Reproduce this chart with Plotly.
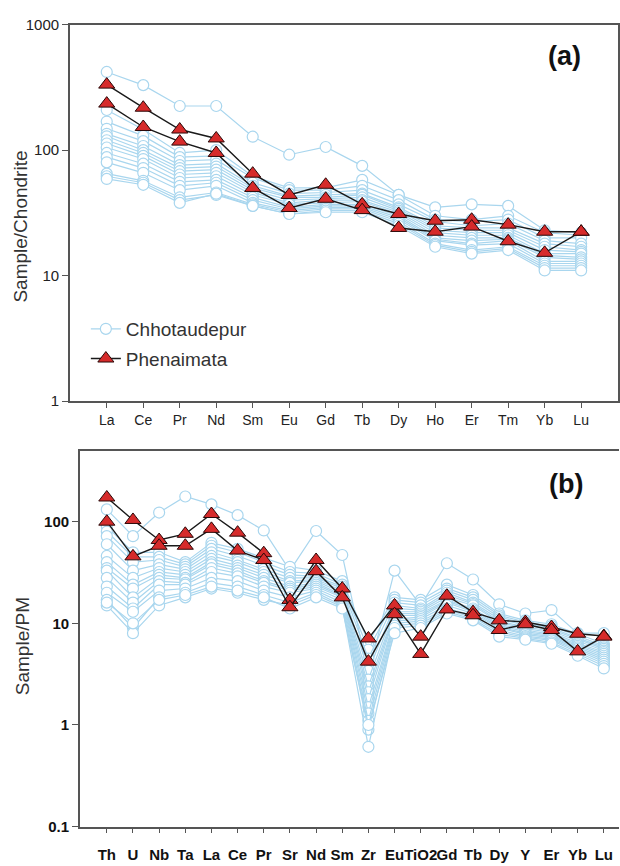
import plotly.graph_objects as go

ree_labels = ["La", "Ce", "Pr", "Nd", "Sm", "Eu", "Gd", "Tb", "Dy", "Ho", "Er", "Tm", "Yb", "Lu"]
pm_labels = ["Th", "U", "Nb", "Ta", "La", "Ce", "Pr", "Sr", "Nd", "Sm", "Zr", "Eu", "TiO2", "Gd",
             "Tb", "Dy", "Y", "Er", "Yb", "Lu"]

# Chondrite-normalised REE, Chhotaudepur samples
chh_ree = [
    [420, 330, 225, 225, 128, 92, 106, 75, 44, 35, 37, 36, 23, 22],
    [209, 146, 95, 100, 62, 50, 50, 58, 44, 30, 28, 30, 22, 21],
    [169, 130, 88, 90, 60, 48, 48, 52, 40, 28, 27, 28, 20, 20],
    [148, 118, 82, 84, 55, 45, 46, 48, 37, 27, 25, 26, 19, 18],
    [135, 108, 76, 78, 52, 43, 44, 45, 35, 25, 24, 24, 18, 17],
    [129, 100, 72, 74, 50, 42, 42, 44, 34, 24, 23, 23, 17, 16],
    [120, 95, 68, 70, 48, 40, 41, 42, 33, 23, 22, 22, 16, 15.5],
    [113, 90, 64, 66, 46, 38, 40, 40, 32, 22, 21, 21, 15, 15],
    [105, 85, 60, 62, 44, 37, 38, 39, 31, 21, 20, 20, 14.5, 14],
    [95, 78, 56, 58, 42, 35, 37, 37, 30, 20, 19, 19.5, 14, 13.5],
    [88, 72, 52, 55, 40, 34, 36, 36, 29, 19.5, 18, 19, 13, 13],
    [80, 66, 48, 52, 38, 33, 35, 35, 28, 19, 17.5, 18, 12.5, 12.5],
    [65, 57, 42, 46, 37, 32, 34, 34, 27, 18, 16, 17, 12, 12],
    [62, 55, 40, 44, 36, 31, 33, 33, 26, 17.5, 15.5, 16.5, 11.5, 11.5],
    [59, 53, 38, 45, 36, 31, 32, 32, 25, 17, 15, 16, 11, 11],
]

# Chondrite-normalised REE, Phenaimata samples
phe_ree = [
    [333, 218, 146, 124, 65, 44, 53, 37, 31, 27.4, 27.9, 25.5, 22.4, 22.4],
    [235, 153, 117, 95, 50, 34.6, 41, 33.3, 24, 22.4, 24.6, 18.8, 15.2, 22.4],
]

# Primitive-mantle-normalised, Chhotaudepur samples
chh_pm = [
    [132, 72, 123, 177, 148, 116, 82, 33, 81, 47, 3.2, 33, 15, 39, 27, 15.4, 12.5, 13.5, 8, 8],
    [90, 50, 50, 40, 62, 54, 44, 36, 33, 26, 6.5, 18, 17, 24, 19, 12.5, 10.7, 9.8, 7.9, 6.3],
    [80, 45, 45, 38, 58, 50, 40, 32, 31, 24, 5.5, 17, 16, 22, 18, 12, 10.3, 9.4, 7.5, 6.0],
    [72, 40, 42, 36, 54, 46, 37, 30, 29, 23, 4.5, 16, 15, 21, 17, 11.5, 10, 9, 7.2, 5.8],
    [60, 33, 38, 34, 50, 42, 34, 28, 28, 22, 3.4, 15, 14, 20, 16, 11, 9.6, 8.7, 7.0, 5.6],
    [46, 28, 35, 32, 46, 40, 32, 26, 27, 21, 2.8, 14, 13.5, 19, 15.5, 10.5, 9.2, 8.4, 6.7, 5.4],
    [40, 24, 32, 30, 43, 37, 30, 25, 26, 20, 2.4, 13, 13, 18, 15, 10.2, 8.9, 8.1, 6.4, 5.2],
    [35, 22, 30, 28, 40, 35, 28, 23, 25, 19, 2.1, 12.5, 12.5, 17, 14, 9.8, 8.6, 7.8, 6.2, 5.0],
    [33, 18, 28, 27, 38, 33, 26, 22, 24, 18.5, 1.8, 12, 12, 16.5, 13.5, 9.5, 8.3, 7.6, 6.0, 4.8],
    [28, 16, 26, 25, 35, 31, 25, 21, 23, 18, 1.5, 11, 11.5, 16, 13, 9.2, 8.0, 7.4, 5.8, 4.6],
    [23, 14, 24, 24, 32, 29, 23, 20, 22, 17, 1.3, 10.5, 11, 15, 12.5, 9.0, 7.8, 7.2, 5.6, 4.4],
    [20, 13, 21, 22, 28, 26, 21, 18, 21, 16, 1.1, 10, 10.5, 14, 12, 8.6, 7.5, 7.0, 5.4, 4.2],
    [17, 9, 18, 20, 25, 23, 19, 16, 20, 15, 0.9, 9.5, 10, 13.5, 11.5, 8.2, 7.3, 6.8, 5.2, 4.0],
    [15, 8, 15, 18, 22, 20, 17, 15, 19, 14.5, 0.61, 9, 9.5, 13, 11, 7.8, 7.1, 6.5, 5.0, 3.8],
    [16, 10, 17, 19, 23, 21, 18, 14, 18, 14, 1.0, 8, 9, 12.5, 10.7, 7.4, 6.9, 6.3, 4.8, 3.6],
]

# Primitive-mantle-normalised, Phenaimata samples
phe_pm = [
    [173, 104, 66, 76, 119, 78, 49, 17, 42, 22, 7.1, 15, 7.4, 18.7, 12.9, 10.7, 10.3, 9.2, 7.9, 7.5],
    [100, 45.6, 58, 58, 85, 52, 42, 14.4, 32.6, 18, 4.2, 12.3, 5.0, 13.7, 12.0, 8.6, 9.8, 8.6, 5.3, 7.4],
]

BLUE = "#a9d6ee"
RED = "#d62b2b"
FONT = "Liberation Sans, Arial, sans-serif"

fig = go.Figure()

def add_group(rows, labels, xa, ya, kind, show):
    for i, row in enumerate(rows):
        if kind == "c":
            fig.add_trace(go.Scatter(
                x=list(range(len(labels))), y=row, mode="lines+markers",
                xaxis=xa, yaxis=ya, name="Chhotaudepur", legendgroup="c",
                showlegend=(show and i == 0),
                line=dict(color=BLUE, width=1.2),
                marker=dict(symbol="circle", size=11, color="white",
                            line=dict(color=BLUE, width=1.2)),
            ))
        else:
            fig.add_trace(go.Scatter(
                x=list(range(len(labels))), y=row, mode="lines+markers",
                xaxis=xa, yaxis=ya, name="Phenaimata", legendgroup="p",
                showlegend=(show and i == 0),
                line=dict(color="#1a1a1a", width=1.4),
                marker=dict(symbol="triangle-up", size=14, color=RED,
                            line=dict(color="#2a0808", width=1)),
            ))

add_group(chh_ree, ree_labels, "x", "y", "c", True)
add_group(chh_pm, pm_labels, "x2", "y2", "c", False)
add_group(phe_ree, ree_labels, "x", "y", "p", True)
add_group(phe_pm, pm_labels, "x2", "y2", "p", False)

W, H = 620, 866
def px(v):
    return v / W
def py(v):
    return (H - v) / H

axcol = "#555555"
boldfont = dict(size=15, color="#111", family=FONT, weight="bold")
fig.update_layout(
    width=W, height=H, margin=dict(l=0, r=0, t=0, b=0),
    plot_bgcolor="white", paper_bgcolor="white",
    font=dict(family=FONT, size=14, color="#222"),
    legend=dict(x=px(86), y=py(307), xanchor="left", yanchor="top",
                font=dict(size=19, family=FONT, color="#333"),
                traceorder="grouped", tracegroupgap=2, bgcolor="rgba(0,0,0,0)"),
    xaxis=dict(domain=[px(70), px(619)], range=[-1.01, 14.01],
               tickmode="array", tickvals=list(range(len(ree_labels))), ticktext=ree_labels,
               ticks="outside", ticklen=5, tickcolor=axcol, showline=True, linecolor=axcol,
               linewidth=1.5, mirror=True, showgrid=False, zeroline=False, tickangle=0,
               tickfont=dict(size=14, color="#222")),
    yaxis=dict(domain=[py(400), py(16)], type="log", range=[0, 3],
               tickmode="array", tickvals=[1, 10, 100, 1000], ticktext=["1", "10", "100", "1000"],
               ticks="outside", ticklen=6, tickcolor=axcol, showline=True, linecolor=axcol,
               linewidth=1.5, mirror=True, showgrid=False, zeroline=False,
               tickfont=dict(size=15, color="#222")),
    xaxis2=dict(domain=[px(80), 1.0], range=[-1.03, 19.58], anchor="y2",
                tickmode="array", tickvals=list(range(len(pm_labels))), ticktext=pm_labels,
                ticks="outside", ticklen=5, tickcolor=axcol, showline=True, linecolor=axcol,
                linewidth=1.5, mirror=True, showgrid=False, zeroline=False, tickangle=0,
                ticklabelstandoff=9, tickfont=boldfont),
    yaxis2=dict(domain=[py(834), py(451)], type="log", range=[-1, 2.694], anchor="x2",
                tickmode="array", tickvals=[0.1, 1, 10, 100], ticktext=["0.1", "1", "10", "100"],
                ticks="outside", ticklen=6, tickcolor=axcol, showline=True, linecolor=axcol,
                linewidth=1.5, mirror=False, showgrid=False, zeroline=False,
                tickfont=dict(size=15, color="#111", weight="bold")),
    annotations=[
        dict(text="Sample/Chondrite", x=px(21), y=py(222), xref="paper", yref="paper",
             xanchor="center", yanchor="middle",
             textangle=-90, showarrow=False, font=dict(size=19, color="#333")),
        dict(text="Sample/PM", x=px(22), y=py(650), xref="paper", yref="paper",
             xanchor="center", yanchor="middle",
             textangle=-90, showarrow=False, font=dict(size=19, color="#333")),
        dict(text="<b>(a)</b>", x=px(565), y=py(48), xref="paper", yref="paper",
             xanchor="center", yanchor="middle",
             showarrow=False, font=dict(size=27, color="#111")),
        dict(text="<b>(b)</b>", x=px(567), y=py(485), xref="paper", yref="paper",
             xanchor="center", yanchor="middle",
             showarrow=False, font=dict(size=27, color="#111")),
    ],
)

fig.write_html("out.html")
